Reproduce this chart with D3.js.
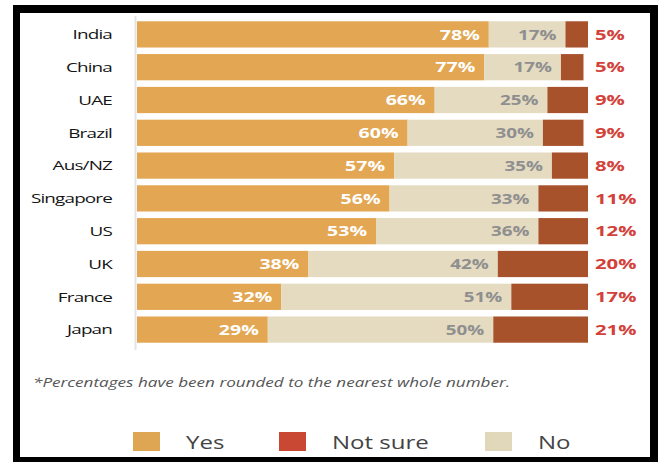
<!DOCTYPE html>
<html>
<head>
<meta charset="utf-8">
<script src="https://cdn.jsdelivr.net/npm/d3@7"></script>
<style>
  body { margin: 0; background: #fff; }
  svg { display: block; font-family: "Open Sans", "Noto Sans", sans-serif; }
</style>
</head>
<body>
<svg id="chart" width="662" height="465"></svg>
<script>
var countries = ["India", "China", "UAE", "Brazil", "Aus/NZ", "Singapore", "US", "UK", "France", "Japan"];
var yes = [78, 77, 66, 60, 57, 56, 53, 38, 32, 29];
var no = [17, 17, 25, 30, 35, 33, 36, 42, 51, 50];
var notSure = [5, 5, 9, 9, 8, 11, 12, 20, 17, 21];
var legendKeys = ["Yes", "Not sure", "No"];

var svg = d3.select("#chart");

// the source type is wide, so text gets stretched sideways
function place(x, y, sx) {
	return "translate(" + x + "," + y + ") scale(" + sx + ",1)";
}

// black frame round the whole picture
svg.append("rect")
   .attr("x", 13).attr("y", 5)
   .attr("width", 645).attr("height", 457)
   .style("fill", "#000");
svg.append("rect")
   .attr("x", 20).attr("y", 13)
   .attr("width", 630).attr("height", 444)
   .style("fill", "#fff");

var x = d3.scaleLinear().domain([0, 100]).range([137, 588]);
var y = d3.scaleBand()
          .domain(countries)
          .range([18, 346])
          .paddingInner(0.2)
          .paddingOuter(0.1);

// thin axis line
svg.append("line")
   .attr("x1", 135.5).attr("x2", 135.5)
   .attr("y1", 16).attr("y2", 350)
   .style("stroke", "#e4e4e4")
   .style("stroke-width", 2);

var rows = countries.map((c, i) => ({c: c, yes: yes[i], no: no[i], ns: notSure[i]}));

var g = svg.selectAll(".row")
   .data(rows)
   .enter()
   .append("g")
   .classed("row", true)
   .attr("transform", d => "translate(0," + y(d.c) + ")");

var bh = y.bandwidth();

g.append("rect")
 .attr("x", x(0))
 .attr("width", d => x(d.yes) - x(0))
 .attr("height", bh)
 .style("fill", "#e3a652");
g.append("rect")
 .attr("x", d => x(d.yes))
 .attr("width", d => x(d.yes + d.no) - x(d.yes))
 .attr("height", bh)
 .style("fill", "#e4dbc1");
g.append("rect")
 .attr("x", d => x(d.yes + d.no))
 .attr("width", d => Math.min(x(d.yes + d.no + d.ns), x(100)) - x(d.yes + d.no))
 .attr("height", bh)
 .style("fill", "#a8522b");

// country names
g.append("text")
 .attr("transform", place(112, bh / 2, 1.4))
 .attr("dy", "0.35em")
 .attr("text-anchor", "end")
 .style("font-size", "13.5px")
 .style("letter-spacing", "-0.6px")
 .style("fill", "#151515")
 .text(d => d.c);

// value labels
g.append("text")
 .attr("transform", d => place(x(d.yes) - 9, bh / 2, 1.35))
 .attr("dy", "0.36em")
 .attr("text-anchor", "end")
 .style("font-size", "14.5px")
 .style("font-weight", "bold")
 .style("fill", "#fff")
 .text(d => d.yes + "%");
g.append("text")
 .attr("transform", d => place(x(d.yes + d.no) - 9, bh / 2, 1.3))
 .attr("dy", "0.36em")
 .attr("text-anchor", "end")
 .style("font-size", "14.5px")
 .style("font-weight", "bold")
 .style("fill", "#8f8f8f")
 .text(d => d.no + "%");
g.append("text")
 .attr("transform", place(595, bh / 2, 1.4))
 .attr("dy", "0.36em")
 .style("font-size", "14.5px")
 .style("font-weight", "bold")
 .style("fill", "#d2413a")
 .text(d => d.ns + "%");

// footnote
svg.append("text")
   .attr("x", 33).attr("y", 387)
   .attr("textLength", 477)
   .attr("lengthAdjust", "spacingAndGlyphs")
   .style("font-size", "12px")
   .style("font-style", "italic")
   .style("fill", "#555")
   .text("*Percentages have been rounded to the nearest whole number.");

// legend
var legColor = d3.scaleOrdinal()
                 .domain(legendKeys)
                 .range(["#dea553", "#c84833", "#e1d8bc"]);
var legX = [133, 279, 485];
var leg = svg.selectAll(".leg")
   .data(legendKeys)
   .enter()
   .append("g")
   .classed("leg", true)
   .attr("transform", (d, i) => "translate(" + legX[i] + ",432)");
leg.append("rect")
   .attr("width", 27).attr("height", 19)
   .style("fill", d => legColor(d));
leg.append("text")
   .attr("transform", place(53, 10, 1.3))
   .attr("dy", "0.36em")
   .style("font-size", "18.5px")
   .style("fill", "#444")
   .text(d => d);
</script>
</body>
</html>
